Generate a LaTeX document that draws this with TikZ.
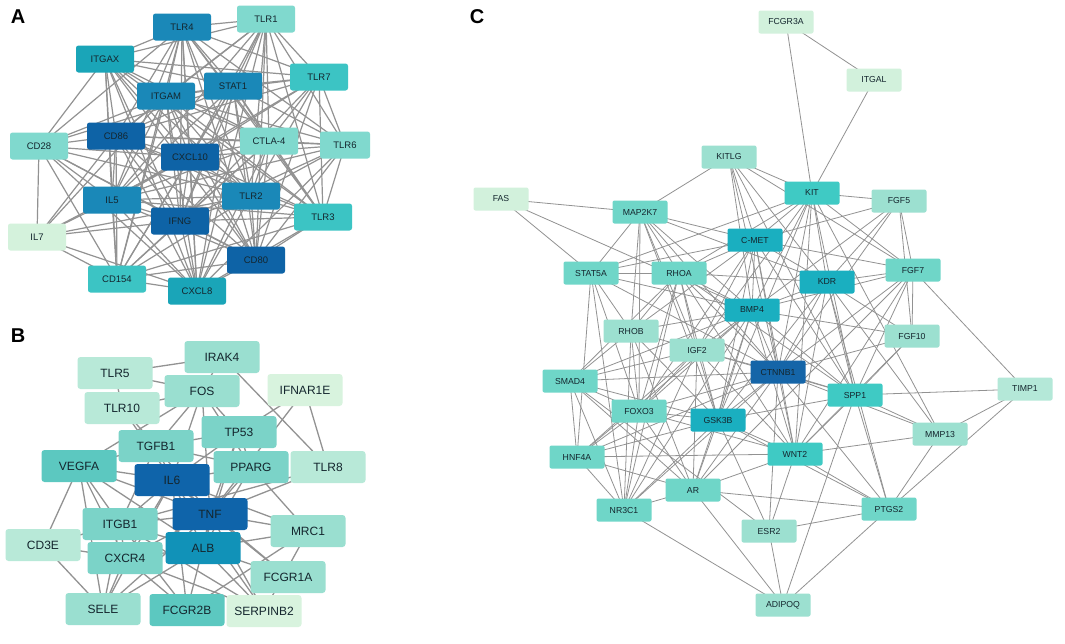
\documentclass[tikz,border=0pt]{standalone}
\usepackage{fontspec}
\setmainfont{Liberation Sans}
\pgfdeclarelayer{bg}
\pgfsetlayers{bg,main}
\definecolor{edgec}{HTML}{929292}
\definecolor{txt}{HTML}{14262E}
\definecolor{cA1}{HTML}{0E63A6}
\definecolor{cA2}{HTML}{1A88B8}
\definecolor{cA3}{HTML}{1AA5B8}
\definecolor{cA4}{HTML}{3CC4C4}
\definecolor{cA5}{HTML}{80D9CE}
\definecolor{cA6}{HTML}{D4F2DC}
\definecolor{cB1}{HTML}{0F64AA}
\definecolor{cB2}{HTML}{1192B8}
\definecolor{cB3}{HTML}{5CC8C0}
\definecolor{cB4}{HTML}{7BD3C8}
\definecolor{cB5}{HTML}{9ADFD0}
\definecolor{cB6}{HTML}{B8E9D8}
\definecolor{cB7}{HTML}{D8F3DE}
\definecolor{cC1}{HTML}{1565A8}
\definecolor{cC2}{HTML}{1AAFC0}
\definecolor{cC3}{HTML}{3FCAC4}
\definecolor{cC4}{HTML}{6FD6C8}
\definecolor{cC5}{HTML}{9CE0D0}
\definecolor{cC6}{HTML}{B4E8D8}
\definecolor{cC7}{HTML}{D2F1DC}
\tikzset{
  anode/.style={rounded corners=2.5pt, minimum width=58pt, minimum height=27pt, inner sep=0pt, text=txt, font=\fontsize{9.5}{10}\selectfont},
  bnode/.style={rounded corners=3pt, minimum width=75pt, minimum height=32pt, inner sep=0pt, text=txt, font=\fontsize{12}{13}\selectfont},
  cnode/.style={rounded corners=2pt, minimum width=55pt, minimum height=23pt, inner sep=0pt, text=txt, font=\fontsize{8.7}{9}\selectfont},
  aedge/.style={draw=edgec, line width=1.2pt},
  bedge/.style={draw=edgec, line width=1.3pt},
  cedge/.style={draw=edgec, line width=0.8pt},
  plabel/.style={font=\bfseries\fontsize{20}{21}\selectfont, text=black, inner sep=0pt}
}
\begin{document}
\begin{tikzpicture}[x=1pt,y=-1pt]
\useasboundingbox (0,0) rectangle (1065,643);
% ---------- Panel labels
\node[plabel] (labA) at (18,17) {A};
\node[plabel] (labB) at (18,336) {B};
\node[plabel] (labC) at (477,17) {C};
% ---------- Panel A nodes
\node[anode, fill=cA2] (aTLR4) at (182,27) {TLR4};
\node[anode, fill=cA5] (aTLR1) at (266,19) {TLR1};
\node[anode, fill=cA3] (aITGAX) at (105,59) {ITGAX};
\node[anode, fill=cA4] (aTLR7) at (319,77) {TLR7};
\node[anode, fill=cA2] (aSTAT1) at (233,86) {STAT1};
\node[anode, fill=cA2] (aITGAM) at (166,96) {ITGAM};
\node[anode, fill=cA5] (aCD28) at (39,146) {CD28};
\node[anode, fill=cA1] (aCD86) at (116,136) {CD86};
\node[anode, fill=cA5] (aCTLA4) at (269,141) {CTLA-4};
\node[anode, fill=cA5, minimum width=50pt] (aTLR6) at (345,145) {TLR6};
\node[anode, fill=cA1] (aCXCL10) at (190,157) {CXCL10};
\node[anode, fill=cA2] (aIL5) at (112,200) {IL5};
\node[anode, fill=cA2] (aTLR2) at (251,196) {TLR2};
\node[anode, fill=cA1] (aIFNG) at (180,221) {IFNG};
\node[anode, fill=cA4] (aTLR3) at (323,217) {TLR3};
\node[anode, fill=cA6] (aIL7) at (37,237) {IL7};
\node[anode, fill=cA1] (aCD80) at (256,260) {CD80};
\node[anode, fill=cA4] (aCD154) at (117,279) {CD154};
\node[anode, fill=cA3] (aCXCL8) at (197,291) {CXCL8};
% ---------- Panel B nodes
\node[bnode, fill=cB5] (bIRAK4) at (222,357) {IRAK4};
\node[bnode, fill=cB6] (bTLR5) at (115,373) {TLR5};
\node[bnode, fill=cB5] (bFOS) at (202,391) {FOS};
\node[bnode, fill=cB7] (bIFNAR1E) at (305,390) {IFNAR1E};
\node[bnode, fill=cB6] (bTLR10) at (122,408) {TLR10};
\node[bnode, fill=cB4] (bTP53) at (239,432) {TP53};
\node[bnode, fill=cB4] (bTGFB1) at (156,446) {TGFB1};
\node[bnode, fill=cB3] (bVEGFA) at (79,466) {VEGFA};
\node[bnode, fill=cB4] (bPPARG) at (251,467) {PPARG};
\node[bnode, fill=cB6] (bTLR8) at (328,467) {TLR8};
\node[bnode, fill=cB1] (bIL6) at (172,480) {IL6};
\node[bnode, fill=cB1] (bTNF) at (210,514) {TNF};
\node[bnode, fill=cB4] (bITGB1) at (120,524) {ITGB1};
\node[bnode, fill=cB5] (bMRC1) at (308,531) {MRC1};
\node[bnode, fill=cB6] (bCD3E) at (43,545) {CD3E};
\node[bnode, fill=cB2] (bALB) at (203,548) {ALB};
\node[bnode, fill=cB4] (bCXCR4) at (125,558) {CXCR4};
\node[bnode, fill=cB5] (bFCGR1A) at (288,577) {FCGR1A};
\node[bnode, fill=cB5] (bSELE) at (103,609) {SELE};
\node[bnode, fill=cB3] (bFCGR2B) at (187,610) {FCGR2B};
\node[bnode, fill=cB7] (bSERPINB2) at (264,611) {SERPINB2};
% ---------- Panel C nodes
\node[cnode, fill=cC7] (cFCGR3A) at (786,22) {FCGR3A};
\node[cnode, fill=cC7] (cITGAL) at (874,80) {ITGAL};
\node[cnode, fill=cC5] (cKITLG) at (729,157) {KITLG};
\node[cnode, fill=cC3] (cKIT) at (812,193) {KIT};
\node[cnode, fill=cC5] (cFGF5) at (899,201) {FGF5};
\node[cnode, fill=cC7] (cFAS) at (501,199) {FAS};
\node[cnode, fill=cC4] (cMAP2K7) at (640,212) {MAP2K7};
\node[cnode, fill=cC2] (cCMET) at (755,240) {C-MET};
\node[cnode, fill=cC4] (cFGF7) at (913,270) {FGF7};
\node[cnode, fill=cC2] (cKDR) at (827,282) {KDR};
\node[cnode, fill=cC4] (cSTAT5A) at (591,273) {STAT5A};
\node[cnode, fill=cC4] (cRHOA) at (679,273) {RHOA};
\node[cnode, fill=cC2] (cBMP4) at (752,310) {BMP4};
\node[cnode, fill=cC5] (cFGF10) at (912,336) {FGF10};
\node[cnode, fill=cC5] (cRHOB) at (631,331) {RHOB};
\node[cnode, fill=cC5] (cIGF2) at (697,350) {IGF2};
\node[cnode, fill=cC1] (cCTNNB1) at (778,372) {CTNNB1};
\node[cnode, fill=cC4] (cSMAD4) at (570,381) {SMAD4};
\node[cnode, fill=cC3] (cSPP1) at (855,395) {SPP1};
\node[cnode, fill=cC6] (cTIMP1) at (1025,389) {TIMP1};
\node[cnode, fill=cC4] (cFOXO3) at (639,411) {FOXO3};
\node[cnode, fill=cC2] (cGSK3B) at (718,420) {GSK3B};
\node[cnode, fill=cC5] (cMMP13) at (940,434) {MMP13};
\node[cnode, fill=cC3] (cWNT2) at (795,454) {WNT2};
\node[cnode, fill=cC4] (cHNF4A) at (577,457) {HNF4A};
\node[cnode, fill=cC4] (cAR) at (693,490) {AR};
\node[cnode, fill=cC4] (cNR3C1) at (624,510) {NR3C1};
\node[cnode, fill=cC4] (cPTGS2) at (889,509) {PTGS2};
\node[cnode, fill=cC5] (cESR2) at (769,531) {ESR2};
\node[cnode, fill=cC5] (cADIPOQ) at (783,605) {ADIPOQ};
% ---------- Edges
\begin{pgfonlayer}{bg}
\fill[white] (0,0) rectangle (1065,643);
\foreach \a/\bs in {
 aTLR4/{aTLR1,aITGAX,aTLR7,aSTAT1,aITGAM,aCD28,aCD86,aCTLA4,aTLR6,aCXCL10,aIL5,aTLR2,aIFNG,aTLR3,aCD80,aCD154,aCXCL8},
 aTLR1/{aITGAX,aTLR7,aSTAT1,aITGAM,aCD86,aCTLA4,aTLR6,aCXCL10,aIL5,aTLR2,aIFNG,aTLR3,aCD80,aCXCL8},
 aITGAX/{aSTAT1,aITGAM,aCD28,aCD86,aCTLA4,aCXCL10,aIL5,aTLR2,aIFNG,aTLR3,aCD80,aCD154,aCXCL8,aTLR7},
 aTLR7/{aSTAT1,aITGAM,aCTLA4,aTLR6,aCXCL10,aIL5,aTLR2,aIFNG,aTLR3,aCD80,aCD86},
 aSTAT1/{aITGAM,aCD28,aCD86,aCTLA4,aTLR6,aCXCL10,aIL5,aTLR2,aIFNG,aTLR3,aCD80,aCD154,aCXCL8},
 aITGAM/{aCD28,aCD86,aCTLA4,aTLR6,aCXCL10,aIL5,aTLR2,aIFNG,aTLR3,aCD80,aCD154,aCXCL8,aIL7},
 aCD28/{aCD86,aCXCL10,aIL5,aTLR2,aIFNG,aIL7,aCD80,aCD154,aCXCL8},
 aCD86/{aCTLA4,aTLR6,aCXCL10,aIL5,aTLR2,aIFNG,aTLR3,aIL7,aCD80,aCD154,aCXCL8},
 aCTLA4/{aTLR6,aCXCL10,aIL5,aTLR2,aIFNG,aTLR3,aCD80,aCD154,aCXCL8},
 aTLR6/{aCXCL10,aIL5,aTLR2,aIFNG,aTLR3,aCD80,aCXCL8},
 aCXCL10/{aIL5,aTLR2,aIFNG,aTLR3,aIL7,aCD80,aCD154,aCXCL8},
 aIL5/{aTLR2,aIFNG,aTLR3,aIL7,aCD80,aCD154,aCXCL8},
 aTLR2/{aIFNG,aTLR3,aIL7,aCD80,aCD154,aCXCL8},
 aIFNG/{aTLR3,aIL7,aCD80,aCD154,aCXCL8},
 aTLR3/{aCD80,aCD154,aCXCL8},
 aIL7/{aCD154,aCXCL8},
 aCD80/{aCD154,aCXCL8},
 aCD154/{aCXCL8}}
{\foreach \b in \bs {\draw[aedge] (\a.center) -- (\b.center);}}
\foreach \a/\bs in {
 bTLR5/{bIRAK4,bFOS,bTLR10},
 bIRAK4/{bTLR8,bFOS},
 bIFNAR1E/{bTP53,bTLR8,bTNF},
 bTLR8/{bTNF,bITGB1},
 bMRC1/{bPPARG,bTNF,bALB,bSERPINB2,bFCGR2B,bIL6},
 bFCGR1A/{bTNF,bIL6,bALB},
 bSERPINB2/{bALB,bTNF,bIL6,bITGB1,bCXCR4},
 bSELE/{bALB,bTNF,bVEGFA,bITGB1,bCXCR4,bIL6},
 bFCGR2B/{bALB,bCXCR4,bITGB1,bIL6},
 bCD3E/{bITGB1,bCXCR4,bSELE,bVEGFA},
 bVEGFA/{bTGFB1,bIL6,bITGB1,bCXCR4,bTNF,bALB},
 bTGFB1/{bFOS,bTP53,bIL6,bTNF,bTLR10,bPPARG,bITGB1},
 bFOS/{bTLR10,bTP53,bIL6,bTNF,bVEGFA,bPPARG},
 bTP53/{bIL6,bTNF,bPPARG,bALB},
 bPPARG/{bIL6,bTNF,bALB},
 bIL6/{bTNF,bALB,bITGB1,bCXCR4},
 bTNF/{bALB,bITGB1,bCXCR4},
 bALB/{bITGB1,bCXCR4},
 bITGB1/{bCXCR4},
 bTLR10/{bIL6}}
{\foreach \b in \bs {\draw[bedge] (\a.center) -- (\b.center);}}
\foreach \a/\bs in {
 cFCGR3A/{cITGAL,cKIT},
 cITGAL/{cKIT},
 cFAS/{cMAP2K7,cSTAT5A,cBMP4},
 cKITLG/{cMAP2K7,cKIT,cCMET,cKDR,cBMP4,cCTNNB1,cFGF7,cSPP1},
 cKIT/{cFGF5,cCMET,cKDR,cFGF7,cBMP4,cCTNNB1,cSPP1,cMMP13,cRHOA,cSTAT5A,cGSK3B,cWNT2,cIGF2},
 cFGF5/{cFGF7,cFGF10,cKDR,cBMP4,cCTNNB1,cCMET},
 cMAP2K7/{cCMET,cSTAT5A,cRHOA,cRHOB,cFOXO3,cGSK3B,cBMP4,cCTNNB1,cIGF2,cKDR},
 cCMET/{cSTAT5A,cRHOA,cBMP4,cKDR,cFGF7,cCTNNB1,cSPP1,cGSK3B,cIGF2,cWNT2,cFOXO3,cRHOB},
 cFGF7/{cKDR,cBMP4,cCTNNB1,cTIMP1,cSPP1,cFGF10,cWNT2,cAR},
 cKDR/{cBMP4,cCTNNB1,cSPP1,cWNT2,cGSK3B,cPTGS2,cFGF10,cMMP13,cRHOA},
 cSTAT5A/{cRHOA,cRHOB,cFOXO3,cNR3C1,cHNF4A,cBMP4,cCTNNB1},
 cRHOA/{cBMP4,cRHOB,cIGF2,cGSK3B,cCTNNB1,cFOXO3,cNR3C1,cWNT2,cSPP1,cSMAD4},
 cBMP4/{cRHOB,cIGF2,cCTNNB1,cSMAD4,cFOXO3,cGSK3B,cWNT2,cSPP1,cFGF10,cNR3C1,cAR,cHNF4A},
 cFGF10/{cCTNNB1,cSPP1,cWNT2},
 cRHOB/{cIGF2,cSMAD4,cNR3C1,cFOXO3,cGSK3B,cAR},
 cIGF2/{cCTNNB1,cGSK3B,cFOXO3,cSMAD4,cNR3C1,cHNF4A,cAR,cWNT2,cSPP1},
 cCTNNB1/{cSMAD4,cSPP1,cGSK3B,cWNT2,cFOXO3,cHNF4A,cAR,cPTGS2,cESR2,cMMP13,cNR3C1},
 cSMAD4/{cFOXO3,cGSK3B,cHNF4A,cNR3C1,cAR,cESR2},
 cSPP1/{cTIMP1,cMMP13,cPTGS2,cADIPOQ,cWNT2,cGSK3B},
 cTIMP1/{cMMP13,cPTGS2},
 cFOXO3/{cGSK3B,cHNF4A,cNR3C1,cAR,cWNT2},
 cGSK3B/{cWNT2,cHNF4A,cAR,cNR3C1,cESR2,cPTGS2},
 cMMP13/{cPTGS2,cWNT2},
 cWNT2/{cPTGS2,cESR2,cHNF4A,cAR},
 cHNF4A/{cNR3C1,cAR},
 cAR/{cNR3C1,cADIPOQ,cPTGS2},
 cNR3C1/{cADIPOQ},
 cPTGS2/{cESR2,cADIPOQ},
 cESR2/{cADIPOQ}}
{\foreach \b in \bs {\draw[cedge] (\a.center) -- (\b.center);}}
\end{pgfonlayer}
\end{tikzpicture}
\end{document}
